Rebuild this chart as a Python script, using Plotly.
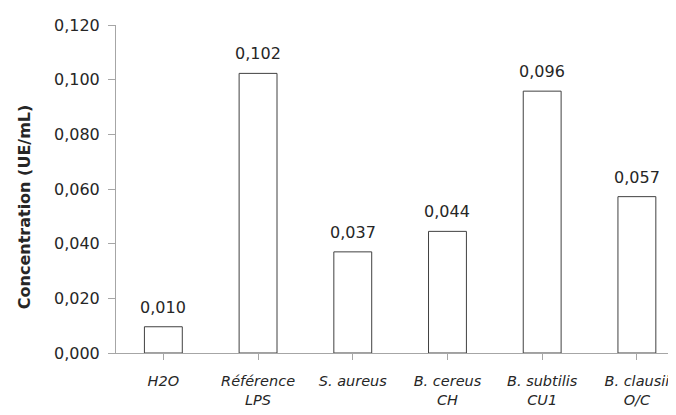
import plotly.graph_objects as go

categories = ["H2O", "Référence<br>LPS", "S. aureus", "B. cereus<br>CH", "B. subtilis<br>CU1", "B. clausii<br>O/C"]
values = [0.0096, 0.1023, 0.0370, 0.0445, 0.0958, 0.0572]
labels = ["0,010", "0,102", "0,037", "0,044", "0,096", "0,057"]
y_ticks = [0.0, 0.02, 0.04, 0.06, 0.08, 0.10, 0.12]

font_family = "DejaVu Sans"
text_color = "#262626"
xpos = list(range(len(categories)))

fig = go.Figure(go.Bar(
    x=xpos,
    y=values,
    marker=dict(color="white", line=dict(color="#404040", width=1)),
    width=0.4,
))

annotations = [dict(
    text="<b>Concentration (UE/mL)</b>", textangle=-90,
    xref="paper", yref="paper", x=-0.164, y=0.445,
    xanchor="center", yanchor="middle", showarrow=False,
    font=dict(family=font_family, size=16, color=text_color),
)]
for xi, v, lab in zip(xpos, values, labels):
    annotations.append(dict(
        x=xi, y=v, xref="x", yref="y", text=lab, showarrow=False,
        xanchor="center", yanchor="bottom", yshift=8,
        font=dict(family=font_family, size=16, color=text_color),
    ))

fig.update_layout(
    width=668, height=407,
    margin=dict(l=108, r=0, t=17, b=62, autoexpand=False),
    plot_bgcolor="white", paper_bgcolor="white",
    separators=",.",
    showlegend=False,
    font=dict(family=font_family, size=16, color=text_color),
    annotations=annotations,
)
fig.update_xaxes(
    tickmode="array",
    tickvals=xpos,
    ticktext=["<i>" + c.replace("<br>", "</i><br><i>") + "</i>" for c in categories],
    range=[-0.5, 5.413],
    showline=True, linecolor="#a6a6a6", linewidth=1,
    ticks="outside", ticklen=6, tickcolor="#a6a6a6",
    tickson="boundaries",
    ticklabelstandoff=9,
    showgrid=False, zeroline=False,
    tickfont=dict(family=font_family, size=14.5, color=text_color),
)
fig.update_yaxes(
    range=[0, 0.12],
    tickmode="array", tickvals=y_ticks, tickformat=".3f",
    showline=True, linecolor="#a6a6a6", linewidth=1,
    ticks="outside", ticklen=7, tickcolor="#a6a6a6",
    ticklabelstandoff=5,
    showgrid=False, zeroline=False,
    tickfont=dict(family=font_family, size=16, color=text_color),
)

fig.write_html("out.html")
